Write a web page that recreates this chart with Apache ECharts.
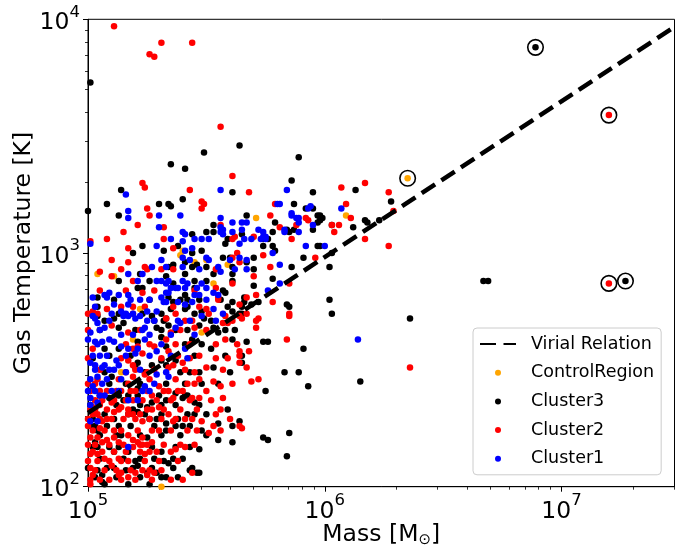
<!DOCTYPE html>
<html>
<head>
<meta charset="utf-8">
<script src="https://cdn.jsdelivr.net/npm/echarts@6/dist/echarts.min.js"></script>
<style>
html, body { margin: 0; padding: 0; background: #fff; }
#chart { width: 677px; height: 546px; }
</style>
</head>
<body>
<div id="chart"></div>
<script>
// points, stored as [log10(M / Msun), log10(T / K)]
var controlRegion = [
  [5.04,2.91],[5.11,2.90],[5.22,2.76],[5.19,2.63],[5.31,2.64],[5.45,2.96],[5.53,2.87],[5.59,2.95],
  [5.14,2.49],[5.40,3.01],[5.48,2.66],[5.71,3.15],[6.09,3.16],[5.31,2.00],[5.39,2.99],[5.50,2.97],
  [6.35,3.32]
];

var cluster3 = [
  [5.01,3.73],[5.64,3.46],[5.49,3.43],[5.89,3.41],[5.35,3.38],[5.41,3.36],[5.86,3.31],[5.61,3.26],
  [5.14,3.27],[5.95,3.26],[6.13,3.27],[5.08,3.21],[5.00,3.18],[5.30,3.21],[5.34,3.21],[5.35,3.20],
  [5.40,3.23],[5.13,3.16],[5.23,3.03],[5.44,3.08],[5.50,3.09],[5.53,3.12],[5.65,3.08],[5.59,3.06],
  [5.58,3.04],[5.67,3.16],[5.79,3.13],[5.78,3.09],[5.74,3.03],[5.87,3.21],[5.84,3.10],[5.85,3.09],
  [5.92,3.19],[5.95,3.19],[5.97,3.16],[5.98,3.16],[5.98,3.14],[5.97,3.13],[5.95,3.10],[5.97,3.03],
  [5.98,3.03],[6.03,3.12],[6.12,3.11],[6.17,3.14],[6.18,3.13],[6.23,3.14],[6.28,3.22],[6.89,3.88],
  [7.27,2.88],[6.67,2.88],[6.69,2.88],[6.36,2.72],[6.15,2.45],
  [5.99,3.15],[5.76,3.06],[5.74,3.06],[5.87,3.10],[5.91,2.98],[6.03,3.00],[6.02,2.94],[5.86,2.94],
  [5.70,2.98],[5.70,2.93],[5.70,2.86],[5.78,2.89],[5.78,3.03],[5.79,3.01],[5.66,2.79],[5.69,2.78],
  [5.72,2.79],[5.84,2.78],[5.85,2.77],[6.02,2.80],[6.03,2.74],
  [5.19,3.00],[5.32,3.01],[5.38,3.03],[5.44,3.00],[5.48,3.01],[5.53,3.09],[5.60,2.98],[5.13,2.88],
  [5.22,2.91],[5.34,2.94],[5.36,2.95],[5.44,2.94],[5.46,2.95],[5.50,2.94],[5.57,2.98],[5.61,2.94],
  [5.61,2.88],[5.04,2.81],[5.21,2.85],[5.23,2.85],[5.33,2.90],[5.36,2.87],[5.41,2.91],[5.45,2.88],
  [5.45,2.85],[5.53,2.91],[5.57,2.84],[5.58,2.83],[5.61,2.91],[5.04,2.77],[5.04,2.73],[5.13,2.74],
  [5.23,2.74],[5.27,2.73],[5.34,2.81],[5.36,2.79],[5.35,2.76],[5.31,2.74],[5.33,2.72],[5.41,2.82],
  [5.42,2.80],[5.42,2.77],[5.41,2.76],[5.45,2.74],[5.48,2.75],[5.47,2.80],[5.59,2.77],[5.61,2.79],
  [5.61,2.75],[5.64,2.74],[5.65,2.77],[5.66,2.81],[5.65,2.74],
  [5.07,2.71],[5.11,2.72],[5.15,2.70],[5.13,2.68],[5.28,2.71],[5.29,2.68],[5.31,2.67],[5.32,2.71],
  [5.34,2.69],[5.42,2.67],[5.47,2.69],[5.49,2.72],[5.52,2.71],[5.53,2.68],[5.55,2.66],[5.58,2.67],
  [5.07,2.59],[5.13,2.59],[5.21,2.62],[5.31,2.64],[5.33,2.60],[5.41,2.61],[5.44,2.63],[5.48,2.61],
  [5.52,2.59],[5.61,2.63],[5.02,2.55],[5.09,2.56],[5.10,2.47],[5.20,2.51],[5.21,2.53],[5.27,2.52],
  [5.31,2.54],[5.33,2.52],[5.37,2.54],[5.43,2.49],[5.53,2.51],[5.65,2.56],[5.65,2.53],[5.09,2.38],
  [5.13,2.39],[5.15,2.37],[5.21,2.42],[5.21,2.39],[5.24,2.42],[5.27,2.36],[5.33,2.37],[5.37,2.40],
  [5.40,2.38],[5.42,2.39],[5.45,2.36],[5.48,2.44],[5.55,2.44],[5.59,2.33],[5.02,2.29],[5.03,2.26],
  [5.04,2.24],[5.11,2.29],[5.13,2.26],[5.19,2.33],[5.21,2.32],[5.25,2.34],[5.26,2.29],[5.29,2.29],
  [5.31,2.31],[5.33,2.27],[5.33,2.24],[5.38,2.29],[5.40,2.26],[5.45,2.31],[5.48,2.24],[5.55,2.27],
  [5.61,2.26],[5.64,2.28],[5.03,2.19],[5.04,2.17],[5.09,2.17],[5.11,2.15],[5.14,2.22],[5.17,2.15],
  [5.20,2.11],[5.25,2.21],[5.31,2.22],[5.31,2.15],[5.32,2.11],[5.36,2.12],[5.47,2.16],[5.55,2.20],
  [5.61,2.19],[5.04,2.07],[5.06,2.05],[5.06,2.02],[5.08,2.08],[5.16,2.07],[5.21,2.09],[5.25,2.06],
  [5.34,2.10],[5.44,2.08],[5.47,2.06],
  [5.74,2.62],[5.76,2.62],[5.91,2.59],[5.83,2.49],[5.89,2.49],[5.93,2.43],[5.75,2.41],[5.85,2.23],
  [5.74,2.21],[5.76,2.20],[5.84,2.13],[5.67,2.62],[5.43,2.07],[5.46,2.06],[5.29,2.06],[5.33,2.04],
  [5.05,2.39],[5.17,2.39],[5.30,2.39],[5.41,2.39],[5.01,2.35],[5.12,2.35],[5.22,2.35],[5.31,2.35],
  [5.37,2.35],[5.47,2.35],[5.07,2.31],[5.17,2.31],[5.24,2.31],[5.42,2.31],[5.50,2.31],[5.01,2.26],
  [5.08,2.26],[5.18,2.26],[5.28,2.26],[5.37,2.26],[5.43,2.26],[5.05,2.22],[5.12,2.22],[5.22,2.22],
  [5.39,2.22],[5.50,2.22],[5.02,2.17],[5.13,2.17],[5.27,2.17],[5.37,2.17],[5.43,2.17],[5.05,2.12],
  [5.15,2.12],[5.22,2.12],[5.28,2.12],[5.40,2.12],[5.00,2.08],[5.11,2.08],[5.19,2.08],[5.27,2.08],
  [5.36,2.08],[5.03,2.04],[5.12,2.04],[5.22,2.04],[5.31,2.04],[5.38,2.04],[5.07,2.01],[5.17,2.01],
  [5.26,2.01],
  [5.05,2.67],[5.20,2.67],[5.37,2.67],[5.62,2.67],[5.18,2.56],[5.45,2.56],[5.58,2.56],[5.07,2.49],
  [5.24,2.49],[5.39,2.49],[5.47,2.49],[5.60,2.49],[5.09,2.44],[5.16,2.44],[5.22,2.44],[5.33,2.44],
  [5.41,2.44],[5.11,2.80],[5.26,2.80],[5.39,2.80],[5.56,2.80],[5.26,2.88],[5.50,2.88],[5.41,2.96],
  [5.67,2.96]
];

var cluster2 = [
  [5.11,3.97],[5.26,3.85],[5.28,3.84],[5.31,3.90],[5.44,3.90],[5.56,3.54],[5.61,3.33],[5.23,3.30],
  [5.24,3.28],[5.68,3.26],[5.43,3.27],[6.07,3.28],[6.17,3.30],[5.48,3.22],[5.49,3.21],[5.48,3.19],
  [5.25,3.19],[5.26,3.16],[5.32,3.11],[5.32,3.06],[5.21,3.12],[5.15,3.09],[5.08,3.06],[5.01,3.05],
  [5.17,3.02],[5.56,3.12],[5.61,3.06],[5.62,3.07],[5.70,3.07],[5.79,3.21],[5.77,3.16],[5.81,3.11],
  [5.86,3.06],[5.88,3.12],[5.92,3.15],[5.93,3.14],[6.04,3.09],[6.09,3.21],[6.11,3.15],[6.06,3.12],
  [6.17,3.06],[6.27,3.26],[6.29,3.18],[6.27,3.03],[6.36,2.51],[7.20,3.59],[7.20,2.87],
  [6.03,3.12],[5.77,2.94],[5.74,2.99],[5.70,2.90],[5.71,2.82],[5.67,2.81],[5.85,2.87],[5.78,2.79],
  [5.67,2.74],[5.85,2.74],[5.72,2.72],[5.96,2.98],
  [5.36,3.02],[5.10,2.97],[5.05,2.92],[5.17,2.96],[5.10,2.90],[5.24,2.94],[5.25,2.93],[5.61,2.98],
  [5.64,2.96],[5.63,3.00],[5.36,2.93],[5.05,2.84],[5.19,2.88],[5.23,2.83],[5.54,2.85],[5.55,2.81],
  [5.55,2.80],[5.61,2.87],[5.08,2.76],[5.02,2.75],[5.00,2.74],[5.14,2.77],[5.19,2.74],[5.19,2.77],
  [5.24,2.77],[5.36,2.77],[5.37,2.74],[5.47,2.77],[5.50,2.76],[5.51,2.74],[5.58,2.73],[5.64,2.78],
  [5.65,2.72],
  [5.10,2.69],[5.04,2.74],[5.17,2.66],[5.33,2.72],[5.35,2.66],[5.41,2.71],[5.44,2.71],[5.45,2.68],
  [5.57,2.70],[5.59,2.70],[5.61,2.71],[5.64,2.73],[5.02,2.59],[5.19,2.59],[5.21,2.60],[5.23,2.57],
  [5.28,2.60],[5.33,2.63],[5.34,2.58],[5.37,2.61],[5.38,2.56],[5.47,2.56],[5.58,2.63],[5.63,2.61],
  [5.64,2.58],[5.64,2.56],[5.17,2.54],[5.19,2.52],[5.16,2.49],[5.19,2.47],[5.24,2.48],[5.25,2.49],
  [5.34,2.51],[5.36,2.52],[5.40,2.53],[5.45,2.49],[5.50,2.51],[5.53,2.45],[5.59,2.55],[5.61,2.44],
  [5.64,2.53],[5.00,2.44],[5.03,2.44],[5.02,2.34],[5.05,2.35],[5.10,2.36],[5.14,2.41],[5.17,2.44],
  [5.20,2.41],[5.27,2.39],[5.30,2.43],[5.34,2.41],[5.36,2.38],[5.40,2.41],[5.42,2.44],[5.45,2.44],
  [5.47,2.38],[5.44,2.38],[5.57,2.38],[5.01,2.33],[5.02,2.31],[5.00,2.26],[5.04,2.31],[5.06,2.28],
  [5.05,2.25],[5.08,2.29],[5.11,2.32],[5.14,2.34],[5.17,2.31],[5.19,2.31],[5.22,2.31],[5.23,2.28],
  [5.30,2.34],[5.34,2.31],[5.36,2.28],[5.41,2.29],[5.48,2.28],[5.51,2.23],[5.54,2.31],[5.53,2.26],
  [5.64,2.26],[5.01,2.21],[5.04,2.21],[5.06,2.19],[5.08,2.20],[5.11,2.21],[5.13,2.19],[5.17,2.22],
  [5.19,2.20],[5.19,2.17],[5.21,2.19],[5.23,2.21],[5.23,2.18],[5.27,2.19],[5.29,2.15],[5.37,2.16],
  [5.41,2.17],[5.01,2.14],[5.04,2.14],[5.07,2.12],[5.13,2.12],[5.17,2.11],[5.24,2.14],[5.01,2.08],
  [5.02,2.05],[5.01,2.01],[5.10,2.09],[5.13,2.05],[5.17,2.04],[5.20,2.06],[5.25,2.05],[5.28,2.06],
  [5.44,2.06],[5.26,2.07],[5.14,2.06],
  [5.84,2.63],[5.69,2.45],[5.72,2.46],[5.65,2.25],[5.68,2.58],[5.67,2.51],[5.71,2.71],[5.71,2.68],
  [5.85,2.73],[5.56,2.43],
  [5.01,2.41],[5.05,2.41],[5.08,2.41],[5.12,2.41],[5.18,2.41],[5.25,2.41],[5.32,2.41],[5.38,2.41],
  [5.50,2.41],[5.03,2.37],[5.06,2.37],[5.11,2.37],[5.16,2.37],[5.19,2.37],[5.23,2.37],[5.29,2.37],
  [5.35,2.37],[5.43,2.37],[5.52,2.37],[5.03,2.33],[5.08,2.33],[5.13,2.33],[5.17,2.33],[5.25,2.33],
  [5.27,2.33],[5.32,2.33],[5.39,2.33],[5.46,2.33],[5.56,2.33],[5.00,2.29],[5.05,2.29],[5.10,2.29],
  [5.15,2.29],[5.20,2.29],[5.26,2.29],[5.31,2.29],[5.37,2.29],[5.44,2.29],[5.60,2.29],[5.02,2.24],
  [5.07,2.24],[5.11,2.24],[5.14,2.24],[5.21,2.24],[5.27,2.24],[5.30,2.24],[5.35,2.24],[5.42,2.24],
  [5.46,2.24],[5.56,2.24],[5.00,2.18],[5.03,2.18],[5.09,2.18],[5.15,2.18],[5.22,2.18],[5.25,2.18],
  [5.32,2.18],[5.39,2.18],[5.45,2.18],[5.02,2.15],[5.06,2.15],[5.11,2.15],[5.16,2.15],[5.22,2.15],
  [5.26,2.15],[5.35,2.15],[5.00,2.11],[5.04,2.11],[5.09,2.11],[5.14,2.11],[5.24,2.11],[5.30,2.11],
  [5.38,2.11],[5.03,2.07],[5.07,2.07],[5.12,2.07],[5.18,2.07],[5.23,2.07],[5.31,2.07],[5.01,2.03],
  [5.05,2.03],[5.09,2.03],[5.14,2.03],[5.20,2.03],[5.27,2.03],[5.35,2.03],[5.40,2.03],
  [5.00,2.67],[5.22,2.67],[5.39,2.67],[5.50,2.67],[5.16,2.61],[5.26,2.61],[5.43,2.61],[5.54,2.61],
  [5.00,2.55],[5.14,2.55],[5.31,2.55],[5.43,2.55],[5.54,2.55],[5.05,2.50],[5.20,2.50],[5.28,2.50],
  [5.41,2.50],[5.57,2.50],[5.04,2.46],[5.13,2.46],[5.26,2.46],[5.37,2.46],[5.47,2.46],[5.16,2.84],
  [5.28,2.84],[5.45,2.84],[5.14,2.93],[5.31,2.93],[5.54,2.93]
];

var cluster1 = [
  [5.16,3.25],[5.17,3.18],[5.17,3.15],[5.30,3.16],[5.30,3.11],[5.39,3.16],[5.01,3.04],[5.29,3.03],
  [5.40,3.09],[5.41,3.08],[5.40,3.05],[5.48,3.06],[5.51,3.06],[5.56,3.27],[5.56,3.15],[5.61,3.13],
  [5.56,3.09],[5.57,3.08],[5.61,3.09],[5.67,3.13],[5.72,3.10],[5.74,3.09],[5.75,3.06],[5.74,3.07],
  [5.80,3.21],[5.84,3.27],[5.83,3.09],[5.89,3.09],[5.86,3.16],[5.89,3.15],[5.89,3.13],[5.93,3.19],
  [5.95,3.12],[5.92,3.03],[6.00,3.03],[6.07,3.19],
  [5.81,3.21],[5.94,3.20],[5.86,3.17],[5.88,3.15],[5.83,3.10],[5.73,3.06],[5.75,3.07],[5.64,2.98],
  [5.67,2.97],[5.67,2.93],[5.81,2.95],[5.78,3.00],[5.81,2.87],[5.76,2.84],
  [5.57,3.10],[5.64,3.04],[5.66,3.06],[5.41,3.01],[5.44,3.02],[5.27,2.94],[5.17,2.91],[5.40,2.94],
  [5.40,2.98],[5.33,2.94],[5.50,2.98],[5.51,2.97],[5.55,2.94],[5.56,2.92],[5.09,2.83],[5.08,2.81],
  [5.07,2.82],[5.02,2.81],[5.13,2.82],[5.21,2.88],[5.23,2.91],[5.29,2.88],[5.31,2.88],[5.33,2.87],
  [5.34,2.88],[5.35,2.85],[5.34,2.83],[5.37,2.85],[5.38,2.85],[5.40,2.88],[5.41,2.85],[5.42,2.87],
  [5.46,2.85],[5.48,2.87],[5.50,2.85],[5.47,2.82],[5.53,2.83],[5.55,2.82],[5.03,2.77],[5.02,2.73],
  [5.11,2.78],[5.10,2.74],[5.14,2.75],[5.15,2.73],[5.16,2.74],[5.17,2.78],[5.18,2.80],[5.17,2.82],
  [5.19,2.74],[5.25,2.75],[5.29,2.75],[5.31,2.81],[5.33,2.83],[5.32,2.79],[5.33,2.79],[5.38,2.79],
  [5.41,2.78],[5.44,2.79],[5.45,2.82],[5.53,2.76],[5.57,2.74],[5.65,3.13],[5.65,3.10],[5.56,3.11],
  [5.03,2.72],[5.04,2.70],[5.01,2.66],[5.05,2.67],[5.07,2.68],[5.17,2.73],[5.20,2.72],[5.22,2.73],
  [5.24,2.68],[5.23,2.67],[5.25,2.71],[5.37,2.68],[5.39,2.70],[5.38,2.71],[5.54,2.71],[5.48,2.73],
  [5.00,2.63],[5.03,2.62],[5.06,2.62],[5.09,2.63],[5.11,2.62],[5.14,2.60],[5.17,2.59],[5.24,2.63],
  [5.20,2.57],[5.21,2.59],[5.29,2.58],[5.42,2.55],[5.41,2.59],[5.01,2.53],[5.03,2.52],[5.06,2.51],
  [5.07,2.52],[5.09,2.50],[5.13,2.52],[5.12,2.54],[5.04,2.47],[5.16,2.49],[5.29,2.48],[5.33,2.49],
  [5.34,2.47],[5.02,2.43],[5.03,2.41],[5.05,2.39],[5.04,2.36],[5.01,2.38],[5.07,2.39],[5.10,2.41],
  [5.06,2.44],[5.01,2.35],[5.17,2.37],[5.21,2.37],[5.24,2.43],[5.28,2.44],[5.23,2.41],[5.04,2.28],
  [5.01,2.28],[5.17,2.17],[6.14,2.63],
  [5.22,2.80],[5.26,2.80],[5.50,2.80],[5.09,2.71],[5.28,2.71],[5.43,2.71],[5.14,2.65],[5.19,2.65],
  [5.26,2.65],[5.35,2.65],[5.45,2.65],[5.04,2.61],[5.31,2.61],[5.02,2.56],[5.05,2.56],[5.08,2.56],
  [5.16,2.56],[5.26,2.56],[5.35,2.56],[5.03,2.50],[5.11,2.50],[5.22,2.50],[5.01,2.46],[5.08,2.46],
  [5.14,2.46],[5.00,2.41],[5.13,2.41],[5.26,2.41],[5.31,2.97],[5.43,2.97],[5.60,2.97],[5.47,2.93],
  [5.62,2.93],[5.35,3.06],[5.45,3.06],[5.69,3.06]
];

// points marked with an open ring
var circled = [[6.89,3.88],[7.20,3.59],[6.35,3.32],[7.20,2.87],[7.27,2.88]];

// virial relation, T ~ M^(2/3)
var virialMass = [1e5, 3e7];
var virialTemp = [207, 9280];

var xMajor = [1e5, 1e6, 1e7];
var xMinor = [2e5, 3e5, 4e5, 5e5, 6e5, 7e5, 8e5, 9e5, 2e6, 3e6, 4e6, 5e6, 6e6, 7e6, 8e6, 9e6, 2e7, 3e7];
var yMajor = [100, 1000, 10000];
var yMinor = [200, 300, 400, 500, 600, 700, 800, 900, 2000, 3000, 4000, 5000, 6000, 7000, 8000, 9000];

var FONT = 'DejaVu Sans';

function toPoints(arr) {
    return arr.map(function (p) { return [Math.pow(10, p[0]), Math.pow(10, p[1])]; });
}

function powLabel(v) {
    return '{b|10}{s|' + Math.round(Math.log10(v)) + '}';
}

var labelRich = {
    b: { fontFamily: FONT, fontSize: 23.5, color: '#000', lineHeight: 31, verticalAlign: 'bottom' },
    s: { fontFamily: FONT, fontSize: 16.5, color: '#000', lineHeight: 18, verticalAlign: 'top' }
};

var myChart = echarts.init(document.getElementById('chart'), null, { renderer: 'canvas' });

function scatter(name, data, color) {
    return {
        name: name,
        type: 'scatter',
        data: toPoints(data),
        symbol: 'circle',
        symbolSize: 6.5,
        itemStyle: { color: color, opacity: 1 },
        emphasis: { disabled: true },
        clip: true
    };
}

myChart.setOption({
    animation: false,
    grid: {
        left: 88, right: 2.5, top: 19.3, bottom: 59.3,
        outerBoundsMode: 'none', containLabel: false,
        show: true, borderColor: '#000', borderWidth: 1, backgroundColor: 'transparent'
    },
    legend: {
        orient: 'vertical',
        left: 473, top: 328,
        padding: [6, 7, 6, 6],
        itemWidth: 36, itemHeight: 6, itemGap: 8.7,
        backgroundColor: '#fff',
        borderColor: '#cccccc', borderWidth: 1, borderRadius: 4,
        textStyle: { fontFamily: FONT, fontSize: 17.5, color: '#000', lineHeight: 20, padding: [0, 0, 0, 10] },
        data: [
            { name: 'Virial Relation', itemStyle: { opacity: 0 } },
            'ControlRegion', 'Cluster3', 'Cluster2', 'Cluster1'
        ]
    },
    xAxis: [
        {
            type: 'log', logBase: 10, min: 1e5, max: 3e7, position: 'bottom',
            name: 'Mass [M{sub|⊙}]', nameLocation: 'middle', nameGap: 35, nameMoveOverlap: false,
            nameTextStyle: {
                fontFamily: FONT, fontSize: 23.5, color: '#000', lineHeight: 26,
                rich: { sub: { fontFamily: FONT, fontSize: 15, color: '#000', verticalAlign: 'bottom', lineHeight: 26 } }
            },
            axisLine: { lineStyle: { color: '#000', width: 1 } },
            axisTick: { customValues: xMajor, length: 5, lineStyle: { color: '#000', width: 1 } },
            axisLabel: { customValues: xMajor, formatter: powLabel, rich: labelRich, margin: 6 },
            splitLine: { show: false }
        },
        {
            type: 'log', logBase: 10, min: 1e5, max: 3e7, position: 'bottom',
            axisLine: { show: false },
            axisTick: { customValues: xMinor, length: 3, lineStyle: { color: '#000', width: 0.8 } },
            axisLabel: { show: false },
            splitLine: { show: false }
        }
    ],
    yAxis: [
        {
            type: 'log', logBase: 10, min: 100, max: 10000, position: 'left',
            name: 'Gas Temperature [K]', nameLocation: 'middle', nameGap: 52, nameRotate: 90,
            nameMoveOverlap: false,
            nameTextStyle: { fontFamily: FONT, fontSize: 23.5, color: '#000' },
            axisLine: { lineStyle: { color: '#000', width: 1 } },
            axisTick: { customValues: yMajor, length: 5, lineStyle: { color: '#000', width: 1 } },
            axisLabel: { customValues: yMajor, formatter: powLabel, rich: labelRich, margin: 8 },
            splitLine: { show: false }
        },
        {
            type: 'log', logBase: 10, min: 100, max: 10000, position: 'left',
            axisLine: { show: false },
            axisTick: { customValues: yMinor, length: 3, lineStyle: { color: '#000', width: 0.8 } },
            axisLabel: { show: false },
            splitLine: { show: false }
        }
    ],
    series: [
        scatter('ControlRegion', controlRegion, '#ffa500'),
        scatter('Cluster3', cluster3, '#000000'),
        scatter('Cluster2', cluster2, '#ff0000'),
        scatter('Cluster1', cluster1, '#0000ff'),
        {
            name: 'marked',
            type: 'scatter',
            data: toPoints(circled),
            symbol: 'circle',
            symbolSize: 15.5,
            itemStyle: { color: 'rgba(0,0,0,0)', borderColor: '#000', borderWidth: 1.6, opacity: 1 },
            silent: true
        },
        {
            name: 'Virial Relation',
            type: 'line',
            data: [[virialMass[0], virialTemp[0]], [virialMass[1], virialTemp[1]]],
            symbol: 'none',
            showSymbol: false,
            lineStyle: { color: '#000', width: 4.5, type: [16, 7.5] },
            itemStyle: { color: '#000' },
            silent: true,
            z: 3
        }
    ]
});
</script>
</body>
</html>
